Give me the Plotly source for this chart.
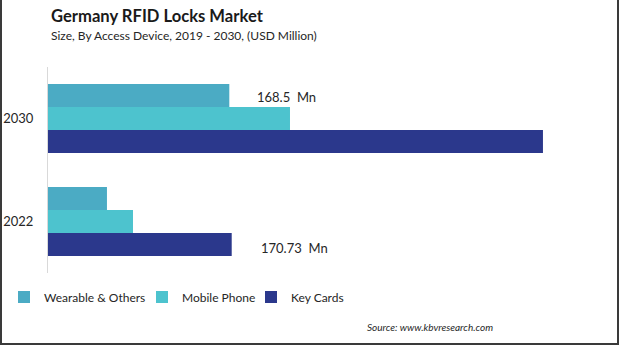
import plotly.graph_objects as go

years = ["2022", "2030"]
wearable = [54.8, 168.5]
mobile = [79.0, 224.9]
key_cards = [170.73, 460.0]

colors = {"Wearable & Others": "#4BABC4", "Mobile Phone": "#4DC3CE", "Key Cards": "#2B388C"}

FONT = "Lato"
W, H = 619, 345
ML, MR, MT, MB = 48, 33, 67, 72
PW, PH = W - ML - MR, H - MT - MB

def px_x(p):
    return (p - ML) / PW

def px_y(p):
    return (H - MB - p) / PH

# legend name -> pixel left of legend box (text starts ~40px later)
legend_slots = {"Wearable & Others": ("legend", 4), "Mobile Phone": ("legend2", 142), "Key Cards": ("legend3", 251)}

fig = go.Figure()
# added bottom-to-top within each group
for name, vals in [("Key Cards", key_cards), ("Mobile Phone", mobile), ("Wearable & Others", wearable)]:
    fig.add_trace(go.Bar(y=years, x=vals, name=name, orientation="h", legend=legend_slots[name][0],
                         marker=dict(color=colors[name], line=dict(width=0))))

annotations = [
    dict(text="<b>Germany RFID Locks Market</b>", x=px_x(49), y=px_y(16), xref="paper", yref="paper",
         xanchor="left", yanchor="middle", showarrow=False, font=dict(family=FONT, size=16.6, color="#1a1a1a")),
    dict(text="Size, By Access Device, 2019 - 2030, (USD Million)", x=px_x(49), y=px_y(35), xref="paper",
         yref="paper", xanchor="left", yanchor="middle", showarrow=False,
         font=dict(family=FONT, size=12, color="#262626")),
    dict(text="<i>Source: www.kbvresearch.com</i>", x=px_x(495), y=px_y(327), xref="paper", yref="paper",
         xanchor="right", yanchor="middle", showarrow=False, font=dict(family=FONT, size=10, color="#262626")),
    dict(text="168.5  Mn", x=wearable[1], y=1, xref="x", yref="y", xanchor="left", yanchor="middle",
         xshift=26, yshift=22, showarrow=False, font=dict(family=FONT, size=13, color="#262626")),
    dict(text="170.73  Mn", x=key_cards[0], y=0, xref="x", yref="y", xanchor="left", yanchor="middle",
         xshift=27, yshift=-26, showarrow=False, font=dict(family=FONT, size=13, color="#262626")),
]

shapes = [
    dict(type="line", xref="paper", yref="paper", x0=px_x(1), x1=px_x(1), y0=px_y(0), y1=px_y(344),
         line=dict(color="#3a3a3a", width=2)),
    dict(type="line", xref="paper", yref="paper", x0=px_x(618), x1=px_x(618), y0=px_y(0), y1=px_y(344),
         line=dict(color="#3a3a3a", width=2)),
    dict(type="line", xref="paper", yref="paper", x0=px_x(0), x1=px_x(619), y0=px_y(344), y1=px_y(344),
         line=dict(color="#3a3a3a", width=2)),
]

def legend_cfg(px_left):
    return dict(orientation="h", x=px_x(px_left), y=px_y(297), xanchor="left", yanchor="middle",
                font=dict(family=FONT, size=12, color="#262626"), itemwidth=30, bgcolor="rgba(0,0,0,0)")

fig.update_layout(
    width=W, height=H,
    margin=dict(l=ML, r=MR, t=MT, b=MB, autoexpand=False),
    paper_bgcolor="white", plot_bgcolor="white",
    barmode="group", bargap=0.33, bargroupgap=0,
    font=dict(family=FONT, size=13, color="#262626"),
    xaxis=dict(range=[0, 500], showgrid=False, zeroline=False, showticklabels=False, showline=False,
               fixedrange=True, automargin=False),
    yaxis=dict(type="category", categoryorder="array", categoryarray=years, range=[-0.5, 1.5],
               showgrid=False, zeroline=False, showline=True, linecolor="#d9d9d9", linewidth=1,
               ticks="", ticklabelstandoff=11, automargin=False,
               tickfont=dict(family=FONT, size=13, color="#262626")),
    showlegend=True,
    legend=legend_cfg(legend_slots["Wearable & Others"][1]),
    legend2=legend_cfg(legend_slots["Mobile Phone"][1]),
    legend3=legend_cfg(legend_slots["Key Cards"][1]),
    annotations=annotations,
    shapes=shapes,
)

fig.write_html("out.html")
